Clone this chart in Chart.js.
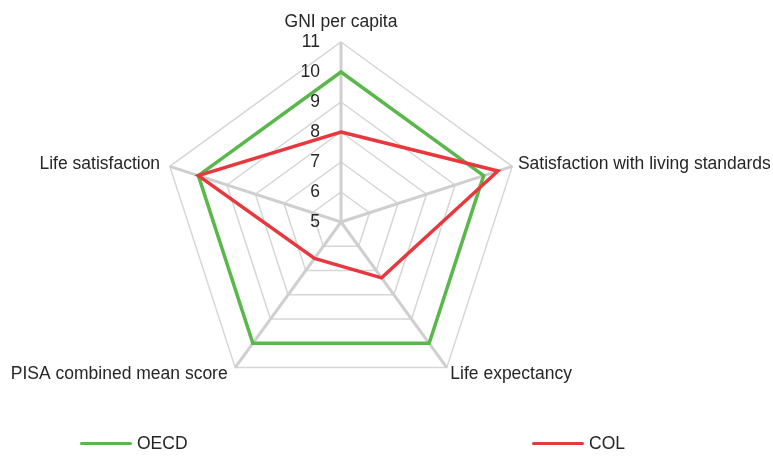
<!DOCTYPE html>
<html>
<head>
<meta charset="utf-8">
<script src="https://cdn.jsdelivr.net/npm/chart.js@4"></script>
<style>
  body { margin: 0; background: #fff; }
  #wrap { position: relative; width: 773px; height: 457px; }
  #legend {
    position: absolute; left: 80px; top: 433px; width: 540px;
    display: flex; justify-content: space-between;
    font: 17.5px "Liberation Sans", Arial, sans-serif; color: #262626;
  }
  .item { display: flex; align-items: center; }
  .swatch { width: 52px; height: 3px; border-radius: 2px; margin-right: 5px; }
</style>
</head>
<body>
<div id="wrap">
  <canvas id="radar" width="773" height="457"></canvas>
  <div id="legend"></div>
</div>
<script>
// data
const categories = ['GNI per capita', 'Satisfaction with living standards', 'Life expectancy', 'PISA combined mean score', 'Life satisfaction'];
const oecdValues = [10, 10, 10, 10, 10];
const colValues = [8, 10.5, 7.3, 6.5, 10];
const seriesNames = ['OECD', 'COL'];
const seriesColors = ['#5ab74c', '#e8373d'];
const scaleMin = 5;
const scaleMax = 11;

const textColor = '#262626';
const labelFont = '17.5px "Liberation Sans", Arial, sans-serif';

// point labels + tick labels drawn next to the radial scale
const labelPlugin = {
  id: 'radarLabels',
  afterDraw(chart) {
    const scale = chart.scales.r;
    const ctx = chart.ctx;
    ctx.save();
    ctx.font = labelFont;
    ctx.fillStyle = textColor;

    // tick labels, left of the top spoke
    ctx.textAlign = 'right';
    ctx.textBaseline = 'middle';
    scale.ticks.forEach(t => {
      const y = scale.yCenter - scale.getDistanceFromCenterForValue(t.value);
      ctx.fillText(String(t.value), scale.xCenter - 21, y);
    });

    // category labels
    categories.forEach((name, i) => {
      const a = scale.getIndexAngle(i);
      const pos = scale.getPointPosition(i, scale.drawingArea + 6);
      const s = Math.sin(a), c = Math.cos(a);
      ctx.textAlign = s > 0.1 ? 'left' : (s < -0.1 ? 'right' : 'center');
      const dx = s < -0.5 ? -4 : 0; // left label sits a bit further out
      if (c > 0.5) {
        ctx.textBaseline = 'alphabetic';
        ctx.fillText(name, pos.x, pos.y - 9);
      } else {
        ctx.textBaseline = 'middle';
        ctx.fillText(name, pos.x + dx, pos.y + (c < -0.5 ? 2 : 0));
      }
    });
    ctx.restore();
  }
};

const ctx = document.getElementById('radar').getContext('2d');
const radarChart = new Chart(ctx, {
  type: 'radar',
  data: {
    labels: categories,
    datasets: [
      {
        label: seriesNames[0],
        data: oecdValues,
        borderColor: seriesColors[0],
        borderWidth: 3.5,
        pointRadius: 0,
        fill: false,
        order: 2
      },
      {
        label: seriesNames[1],
        data: colValues,
        borderColor: seriesColors[1],
        borderWidth: 3.5,
        pointRadius: 0,
        fill: false,
        order: 1
      }
    ]
  },
  options: {
    responsive: false,
    animation: false,
    layout: { padding: { left: 161, right: 252, top: 42, bottom: 55 } },
    plugins: {
      legend: { display: false },
      tooltip: { enabled: false }
    },
    elements: { line: { tension: 0, borderJoinStyle: 'miter' } },
    scales: {
      r: {
        min: scaleMin,
        max: scaleMax,
        ticks: { stepSize: 1, display: false },
        grid: { color: '#d6d6d6', lineWidth: 1.5 },
        angleLines: { color: '#cfcfcf', lineWidth: 3 },
        pointLabels: { display: false }
      }
    }
  },
  plugins: [labelPlugin]
});

// legend
const legendEl = document.getElementById('legend');
legendEl.style.width = '545px';
seriesNames.forEach((name, i) => {
  const item = document.createElement('div');
  item.className = 'item';
  item.innerHTML = '<span class="swatch" style="background:' + seriesColors[i] + '"></span>' + name;
  legendEl.appendChild(item);
});
</script>
</body>
</html>
